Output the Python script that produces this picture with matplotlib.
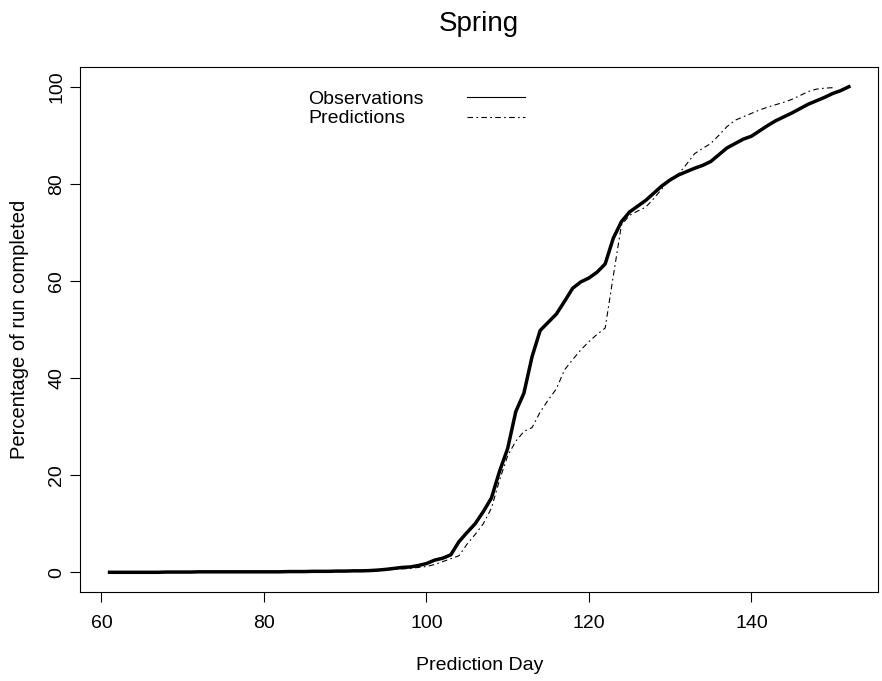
import numpy as np
import matplotlib
matplotlib.use('Agg')
import matplotlib.pyplot as plt

plt.rcParams['font.family'] = ['Liberation Sans', 'DejaVu Sans']

# Observed percentage of run completed, days 61..152
obs_days = np.arange(61, 153)
obs_pct = [
    0.0, 0.0, 0.0, 0.0, 0.0, 0.0, 0.0, 0.05, 0.05, 0.05,
    0.05, 0.1, 0.1, 0.1, 0.1, 0.1, 0.1, 0.1, 0.1, 0.1,
    0.1, 0.1, 0.15, 0.15, 0.15, 0.2, 0.2, 0.2, 0.25, 0.25,
    0.3, 0.3, 0.35, 0.45, 0.6, 0.8, 1.0, 1.1, 1.4, 1.8,
    2.5, 2.9, 3.6, 6.3, 8.2, 10.0, 12.5, 15.3, 20.8, 25.5,
    33.1, 36.9, 44.4, 49.8, 51.5, 53.2, 55.8, 58.5, 59.8, 60.6,
    61.8, 63.5, 68.8, 72.2, 74.2, 75.4, 76.6, 78.1, 79.6, 80.8,
    81.8, 82.5, 83.2, 83.8, 84.6, 86.0, 87.4, 88.3, 89.2, 89.8,
    90.9, 92.0, 93.0, 93.8, 94.6, 95.5, 96.4, 97.1, 97.8, 98.6,
    99.2, 100.0,
]

# Predicted percentage, days 61..150
pred_days = np.arange(61, 151)
pred_pct = [
    0.0, 0.0, 0.0, 0.0, 0.0, 0.0, 0.0, 0.05, 0.05, 0.05,
    0.05, 0.1, 0.1, 0.1, 0.1, 0.1, 0.1, 0.1, 0.1, 0.1,
    0.1, 0.1, 0.15, 0.15, 0.15, 0.2, 0.2, 0.2, 0.25, 0.25,
    0.3, 0.3, 0.35, 0.4, 0.5, 0.6, 0.7, 0.8, 1.0, 1.2,
    1.6, 2.2, 2.8, 3.4, 5.8, 7.8, 10.0, 13.2, 19.0, 24.0,
    27.0, 29.0, 29.8, 33.0, 35.5, 37.8, 41.7, 43.8, 45.8, 47.5,
    49.0, 50.3, 61.0, 71.5, 73.5, 74.4, 75.2, 77.0, 79.0, 81.0,
    82.0, 84.0, 86.2, 87.3, 88.3, 90.0, 91.8, 93.1, 93.8, 94.5,
    95.2, 95.8, 96.3, 96.8, 97.4, 98.2, 99.0, 99.5, 99.7, 99.8,
]

xticks = [60, 80, 100, 120, 140]
yticks = [0, 20, 40, 60, 80, 100]

fig = plt.figure(figsize=(8.82, 6.81), dpi=100)
ax = fig.add_axes([0.0907, 0.1311, 0.9053, 0.7701])

ax.plot(obs_days, obs_pct, color='black', lw=2.5, solid_joinstyle='round')
ax.plot(pred_days, pred_pct, color='black', lw=0.8, linestyle=(0, (5, 3, 1.5, 3)))

ax.set_xlim(61 - 0.04 * 91, 152 + 0.04 * 91)
ax.set_ylim(-4, 104)
ax.set_xticks(xticks)
ax.set_yticks(yticks)
ax.tick_params(direction='out', length=7.5, width=0.8, colors='black', labelsize=14)
ax.tick_params(axis='x', pad=9)
ax.tick_params(axis='y', pad=3)
for lab in ax.get_yticklabels():
    lab.set_rotation(90)
    lab.set_va('center')
for s in ax.spines.values():
    s.set_linewidth(0.8)

ax.set_title('Spring', fontsize=20, pad=26)
ax.set_xlabel('Prediction Day', fontsize=14, labelpad=18)
ax.set_ylabel('Percentage of run completed', fontsize=14.5, labelpad=14)

# legend without box: text on left, line samples on right
ax.text(0.2855, 0.9377, 'Observations', transform=ax.transAxes, fontsize=14, va='center', ha='left')
ax.text(0.2855, 0.9015, 'Predictions', transform=ax.transAxes, fontsize=14, va='center', ha='left')
ax.plot([0.4847, 0.5573], [0.9434, 0.9434], transform=ax.transAxes, color='black', lw=0.8)
ax.plot([0.4847, 0.5573], [0.9053, 0.9053], transform=ax.transAxes, color='black', lw=0.8,
        linestyle=(0, (5, 3, 1.5, 3)))

fig.savefig('out.png', dpi=100)
